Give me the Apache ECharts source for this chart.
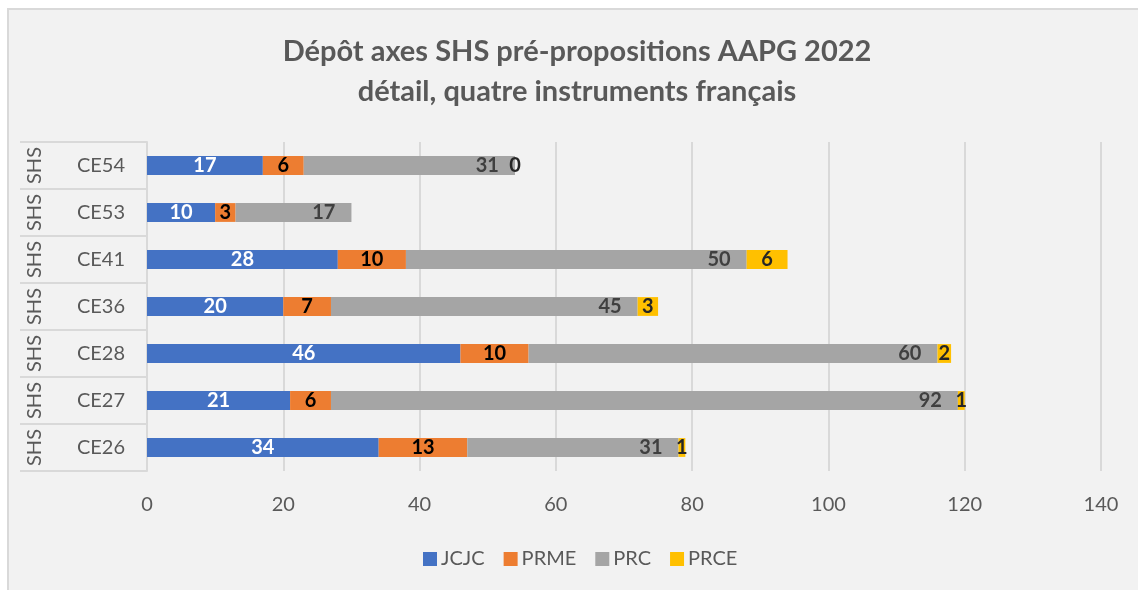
<!DOCTYPE html>
<html>
<head>
<meta charset="utf-8">
<script src="https://cdn.jsdelivr.net/npm/echarts@6/dist/echarts.min.js"></script>
<style>
html,body{margin:0;padding:0;background:#fff;width:1138px;height:590px;overflow:hidden;position:relative;}
#bg{position:absolute;left:7px;top:8px;width:1131px;height:582px;background:#F2F2F2;border-left:2px solid #D9D9D9;border-top:2px solid #D9D9D9;box-sizing:border-box;}
#chart{position:absolute;left:8px;top:0;width:1138px;height:590px;}
</style>
</head>
<body>
<div id="bg"></div>
<div id="chart"></div>
<script>
const categories = ['CE26', 'CE27', 'CE28', 'CE36', 'CE41', 'CE53', 'CE54'];
const groupLabels = ['SHS', 'SHS', 'SHS', 'SHS', 'SHS', 'SHS', 'SHS'];
const seriesNames = ['JCJC', 'PRME', 'PRC', 'PRCE'];
const jcjc = [34, 21, 46, 20, 28, 10, 17];
const prme = [13, 6, 10, 7, 10, 3, 6];
const prc = [31, 92, 60, 45, 50, 17, 31];
const prce = [1, 1, 2, 3, 6, null, 0];
const xTicks = [0, 20, 40, 60, 80, 100, 120, 140];

const FONT = 'Lato, "Open Sans", sans-serif';
const colors = ['#4472C4', '#ED7D31', '#A5A5A5', '#FFC000'];
const labelColors = ['#FFFFFF', '#000000', '#404040', '#262626'];
const values = [jcjc, prme, prc, prce];

const chart = echarts.init(document.getElementById('chart'));
chart.setOption({
  animation: false,
  backgroundColor: 'transparent',
  title: {
    text: 'Dépôt axes SHS pré-propositions AAPG 2022\ndétail, quatre instruments français',
    left: 'center',
    top: 27,
    textStyle: {fontFamily: FONT, fontSize: 29, fontWeight: 'bold', color: '#595959', lineHeight: 40}
  },
  legend: {
    bottom: 16,
    left: 410,
    itemWidth: 14,
    itemHeight: 14,
    itemGap: 19,
    icon: 'rect',
    textStyle: {fontFamily: FONT, fontSize: 20, color: '#595959', padding: [0, 0, 0, -1]},
    data: seriesNames
  },
  grid: {left: 139, right: 45, top: 142, bottom: 119},
  xAxis: {
    type: 'value',
    min: xTicks[0],
    max: xTicks[xTicks.length - 1],
    interval: 20,
    axisLine: {show: false},
    axisTick: {show: false},
    axisLabel: {fontFamily: FONT, fontSize: 20, color: '#595959', margin: 24},
    splitLine: {lineStyle: {color: '#D9D9D9', width: 2}}
  },
  yAxis: [
    {
      type: 'category',
      data: categories,
      position: 'left',
      axisLine: {lineStyle: {color: '#D9D9D9', width: 2}},
      axisTick: {show: true, length: 127, lineStyle: {color: '#D9D9D9', width: 2}},
      axisLabel: {fontFamily: FONT, fontSize: 20, color: '#595959', margin: 22, interval: 0}
    },
    {
      type: 'category',
      data: groupLabels,
      position: 'left',
      axisLine: {show: false},
      axisTick: {show: false},
      axisLabel: {fontFamily: FONT, fontSize: 20, color: '#595959', rotate: 90, margin: 102, interval: 0}
    }
  ],
  series: seriesNames.map((name, i) => ({
    name: name,
    type: 'bar',
    stack: 'total',
    barWidth: '40%',
    data: values[i],
    itemStyle: {color: colors[i]},
    label: {
      show: true,
      position: i === 2 ? 'insideRight' : 'inside',
      distance: 16,
      fontFamily: FONT,
      fontSize: 20,
      fontWeight: 'bold',
      color: labelColors[i]
    }
  }))
});
</script>
</body>
</html>
